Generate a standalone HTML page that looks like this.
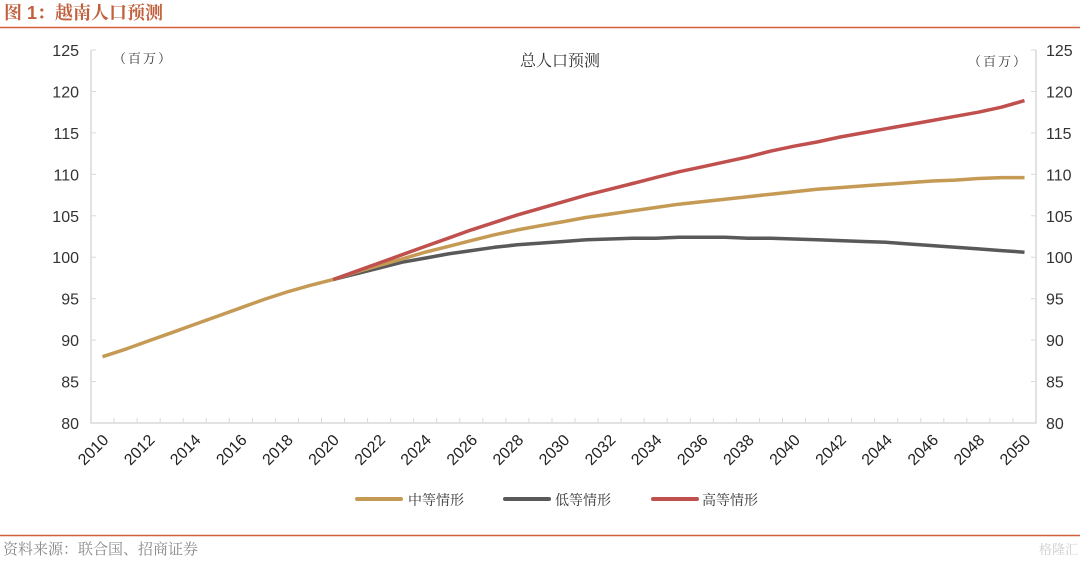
<!DOCTYPE html>
<html><head><meta charset="utf-8"><style>
body{margin:0;background:#fff;}
svg text{font-family:"Liberation Sans","Noto Serif CJK SC","Noto Sans CJK SC",sans-serif;}
</style></head><body>
<svg id="c" width="1080" height="560" xmlns="http://www.w3.org/2000/svg">
<text x="4" y="19" font-size="18" fill="#C0603D" font-weight="bold" font-family="'Noto Serif CJK SC',serif">图 1：越南人口预测</text>
<line x1="0" y1="27.5" x2="1080" y2="27.5" stroke="#D0603D" stroke-width="1.5"/>
<text x="560" y="66" font-size="16" text-anchor="middle" fill="#333">总人口预测</text>
<text x="113" y="63" font-size="13" fill="#333" letter-spacing="2">（百万）</text>
<text x="968" y="66" font-size="13" fill="#333" letter-spacing="2">（百万）</text>
<g id="axes"></g><g id="series"></g>
<g>
<line x1="357" y1="499" x2="401" y2="499" stroke="#C49A55" stroke-width="4" stroke-linecap="round"/>
<text x="408" y="505" font-size="14" fill="#333">中等情形</text>
<line x1="505" y1="499" x2="549" y2="499" stroke="#595959" stroke-width="4" stroke-linecap="round"/>
<text x="555" y="505" font-size="14" fill="#333">低等情形</text>
<line x1="653" y1="499" x2="697" y2="499" stroke="#C0504D" stroke-width="4" stroke-linecap="round"/>
<text x="702" y="505" font-size="14" fill="#333">高等情形</text>
</g>
<line x1="0" y1="535.5" x2="1080" y2="535.5" stroke="#D0603D" stroke-width="1.5"/>
<text x="3" y="554" font-size="15" fill="#888">资料来源：联合国、招商证券</text>
<text x="1078" y="554" font-size="13" fill="#ccc" text-anchor="end">格隆汇</text>
</svg>
<script>
const years=[];for(let y=2010;y<=2050;y++)years.push(y);
const yTicks=[80,85,90,95,100,105,110,115,120,125];
const histVals=[88.0,88.9,89.9,90.9,91.9,92.9,93.9,94.9,95.8,96.6,97.3];
const mediumVals=[98.2,99.0,99.8,100.6,101.3,102.0,102.7,103.3,103.8,104.3,104.8,105.2,105.6,106.0,106.4,106.7,107.0,107.3,107.6,107.9,108.2,108.4,108.6,108.8,109.0,109.2,109.3,109.5,109.6,109.6];
const lowVals=[98.0,98.7,99.4,99.9,100.4,100.8,101.2,101.5,101.7,101.9,102.1,102.2,102.3,102.3,102.4,102.4,102.4,102.3,102.3,102.2,102.1,102.0,101.9,101.8,101.6,101.4,101.2,101.0,100.8,100.6];
const highVals=[98.3,99.3,100.3,101.3,102.3,103.3,104.2,105.1,105.9,106.7,107.5,108.2,108.9,109.6,110.3,110.9,111.5,112.1,112.8,113.4,113.9,114.5,115.0,115.5,116.0,116.5,117.0,117.5,118.1,118.9];
const L=91,R=1036,T=50,B=423,NS="http://www.w3.org/2000/svg";
const step=(R-L)/years.length;
const xs=i=>L+step*(i+0.5);
const ys=v=>B-(v-80)/45*(B-T);
const ax=document.getElementById('axes'),sg=document.getElementById('series');
function mk(t,a,p){const e=document.createElementNS(NS,t);for(const k in a)e.setAttribute(k,a[k]);p.appendChild(e);return e;}
let e=mk('path',{d:`M${L},${T}V${B}H${R}V${T}`,fill:'none',stroke:'#d9d9d9','stroke-width':1.5},ax);


yTicks.forEach(v=>{const y=ys(v);
 mk('line',{x1:L,x2:L+5,y1:y,y2:y,stroke:'#d9d9d9'},ax);mk('line',{x1:R-5,x2:R,y1:y,y2:y,stroke:'#d9d9d9'},ax);
 let t=mk('text',{x:L-12,y:y+6,'font-size':16,'text-anchor':'end',fill:'#333'},ax);t.textContent=v;
 
 
 t=mk('text',{x:R+10,y:y+6,'font-size':16,fill:'#333'},ax);t.textContent=v;
 
 
});
years.forEach((yr,i)=>{const x=L+step*i;if(i>0)mk('line',{x1:x,x2:x,y1:B-5,y2:B,stroke:'#d9d9d9'},ax);
 if(i%2===0){const cx=xs(i)+7,cy=B+18;let t=mk('text',{x:cx,y:cy,'font-size':16,'text-anchor':'end',fill:'#222',transform:`rotate(-45 ${cx} ${cy})`},ax);t.textContent=yr;
 
 }
});
function line(vals,start,color,name){const d=vals.map((v,k)=>(k?'L':'M')+xs(start+k).toFixed(1)+','+ys(v).toFixed(1)).join('');
 const p=mk('path',{d,fill:'none',stroke:color,'stroke-width':3.5,'stroke-linejoin':'round'},sg);
 
 }
line([histVals[10]].concat(lowVals),10,'#595959','low-series');
line([histVals[10]].concat(mediumVals),10,'#C49A55','medium-series');
line([histVals[10]].concat(highVals),10,'#C0504D','high-series');
line(histVals,0,'#C49A55','historical-series');
</script>
</body></html>
